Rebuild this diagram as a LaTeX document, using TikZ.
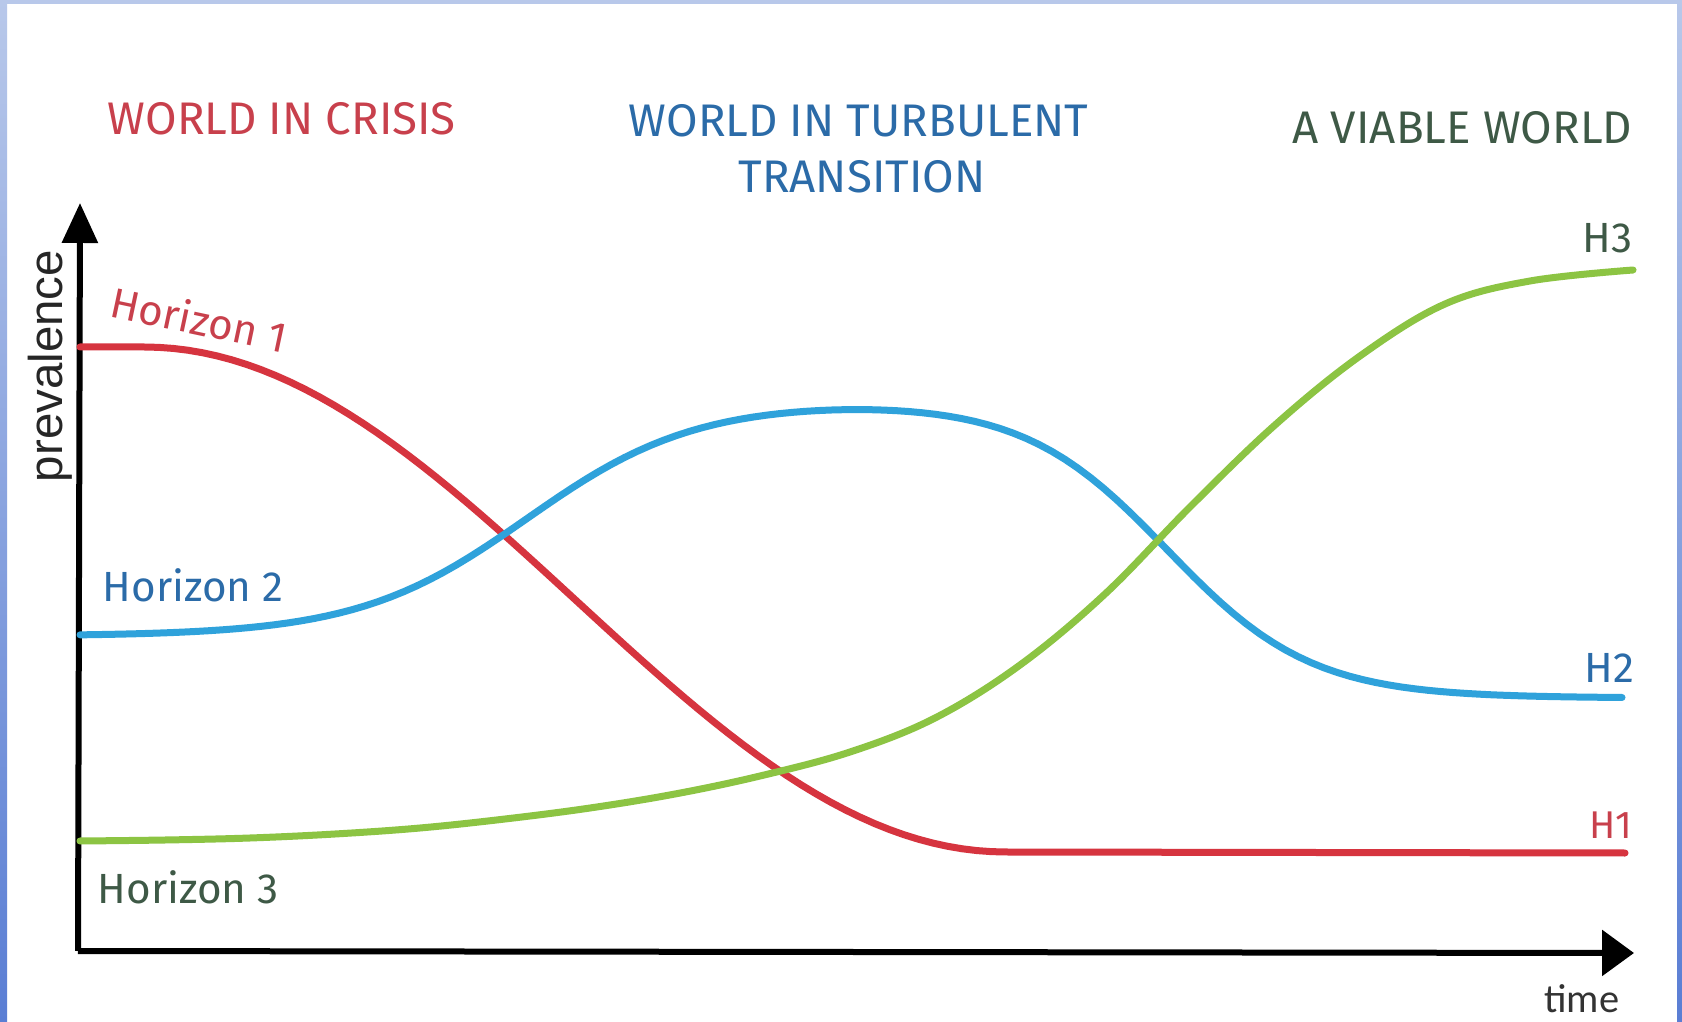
\documentclass[tikz,border=0pt]{standalone}
\usepackage{fontspec}
\setmainfont{Fira Sans}
\newfontfamily\axisfont{Liberation Sans}
\newfontfamily\timefont{Carlito}
\usepackage{tikz}
\usetikzlibrary{arrows.meta, positioning, calc}

\definecolor{crisisred}{HTML}{C8404C}
\definecolor{redline}{HTML}{D6343F}
\definecolor{turbblue}{HTML}{2B6BA8}
\definecolor{blueline}{HTML}{2FA2DB}
\definecolor{viablegreen}{HTML}{3E5946}
\definecolor{greenline}{HTML}{8CC443}
\definecolor{framelight}{HTML}{B8C8EA}
\definecolor{framedark}{HTML}{5A7ED4}

\begin{document}
\begin{tikzpicture}[x=0.1mm, y=-0.1mm,
    heading/.style={font=\fontsize{13}{15}\selectfont, inner sep=0pt},
    horizon/.style={font=\fontsize{12}{14}\selectfont, inner sep=0pt},
    tag/.style={font=\fontsize{12}{14}\selectfont, inner sep=0pt, anchor=base east},
    trend/.style={line width=0.7mm, line cap=round, line join=round},
    axisline/.style={line width=0.6mm, black}]
\useasboundingbox (0,0) rectangle (1682,1022);

% Frame
\fill[white] (0,0) rectangle (1682,1022);
\shade[top color=framelight, bottom color=framedark] (0,0) rectangle (7,1022);
\shade[top color=framelight, bottom color=framedark] (1677,0) rectangle (1682,1022);
\fill[framelight] (0,0) rectangle (1682,4);

% Axes
\coordinate (o) at (78,951);
\coordinate (ytip) at (80,203);
\coordinate (xtip) at (1634,953);
\draw[axisline, -{Triangle[length=4mm, width=3.5mm]}] (o) -- (ytip);
\draw[axisline, -{Triangle[length=3.2mm, width=4.5mm]}] (o) -- (xtip);
\node[rotate=90, anchor=base, font=\axisfont\fontsize{13.5}{15}\selectfont,
      text=black!85] (prev) at (62,366) {prevalence};
\node[anchor=base west, font=\timefont\fontsize{11.5}{13}\selectfont,
      text=black!80] (time) at (1532,1012) {time};

% Horizon 1 (falls)
\draw[redline, trend] (80,347) -- (144,347)
    -- plot[domain=144:1006, samples=60] (\x, {347+252.5*(1-cos((\x-144)*0.20882))})
    -- (1625,853);
% Horizon 2 (rises, then falls back)
\draw[blueline, trend] plot[domain=80:1622, samples=120]
    (\x, {636 - 235/(1+exp(min(9,(527-\x)/84.5))) + 297/(1+exp(min(9,(1167-\x)/72)))});
% Horizon 3 (slow start, then takes over)
\draw[greenline, trend] plot[smooth, tension=0.6] coordinates {(80,841) (165,840)
    (250,838) (335,834) (420,828) (505,819) (590,808) (675,794) (760,776)
    (850,752) (935,718) (1020,665) (1105,594) (1190,507) (1275,425) (1360,356)
    (1445,304) (1530,281) (1633,270)};

% Phase titles
\node[heading, anchor=base west, text=crisisred] (crisis) at (107,135) {WORLD IN CRISIS};
\node[heading, anchor=base west, text=turbblue] (turb) at (628,137) {WORLD IN TURBULENT};
\node[heading, anchor=base, text=turbblue] (trans) at (862,193) {TRANSITION};
\node[heading, anchor=base east, text=viablegreen] (viable) at (1633,144) {A VIABLE WORLD};

% Curve labels
\node[horizon, anchor=base west, text=crisisred, rotate=-12] (hz1) at (108,316) {Horizon 1};
\node[horizon, anchor=base west, text=turbblue] (hz2) at (102,602) {Horizon 2};
\node[horizon, anchor=base west, text=viablegreen] (hz3) at (97,903) {Horizon 3};
\node[tag, text=viablegreen] (h3) at (1633,253) {H3};
\node[tag, text=turbblue] (h2) at (1635,683) {H2};
\node[tag, text=crisisred, font=\fontsize{11}{13}\selectfont] (h1) at (1633,838) {H1};
\end{tikzpicture}
\end{document}
